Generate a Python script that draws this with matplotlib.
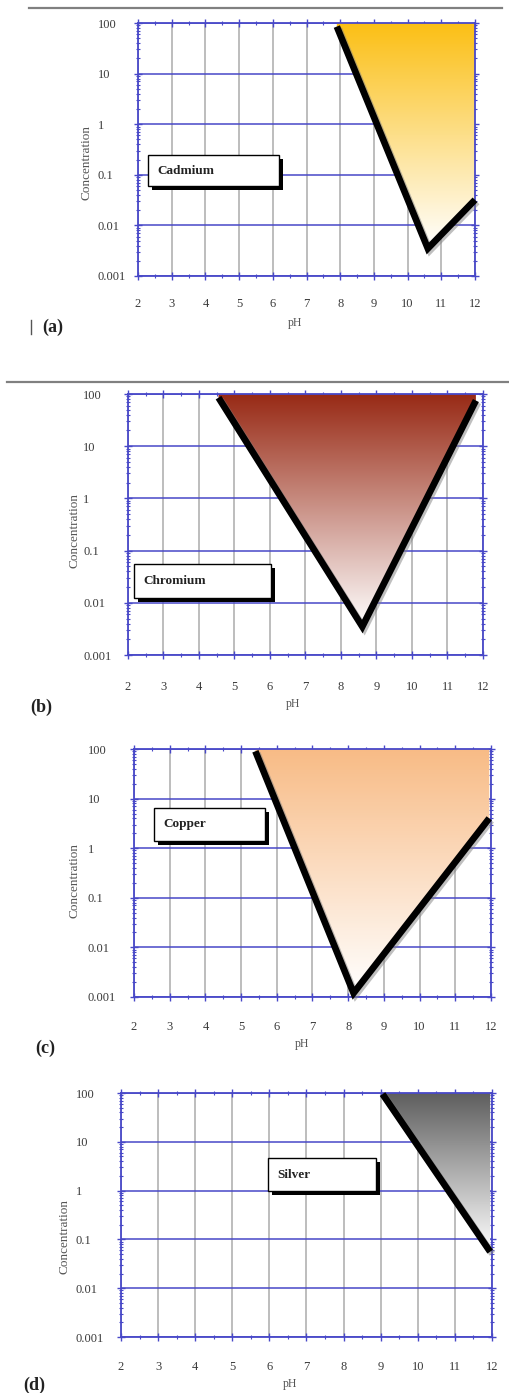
import numpy as np
import matplotlib
matplotlib.use("Agg")
import matplotlib.pyplot as plt
from matplotlib.patches import Polygon, Rectangle
from matplotlib.lines import Line2D
from matplotlib.ticker import LogLocator, FixedLocator, NullFormatter
import matplotlib.patheffects as pe
from matplotlib.colors import to_rgb

plt.rcParams['font.family'] = ['Liberation Serif', 'DejaVu Serif']

# ---------------- data ----------------
ph_ticks = [2, 3, 4, 5, 6, 7, 8, 9, 10, 11, 12]
conc_ticks = [0.001, 0.01, 0.1, 1, 10, 100]
conc_tick_labels = ['0.001', '0.01', '0.1', '1', '10', '100']

metals = ['Cadmium', 'Chromium', 'Copper', 'Silver']
panel_letters = ['(a)', '(b)', '(c)', '(d)']

cd_ph = [7.9, 10.6, 12.0]
cd_conc = [85, 0.0035, 0.032]
cr_ph = [4.55, 8.6, 11.8]
cr_conc = [85, 0.0035, 75]
cu_ph = [5.4, 8.15, 11.95]
cu_conc = [90, 0.0012, 4.0]
ag_ph = [9.05, 11.95]
ag_conc = [95, 0.056]

top_colors = ['#FBBF14', '#982A15', '#F8BB85', '#5E5E5E']

# ---------------- layout (pixels) ----------------
W, H, DPI = 510, 1393, 100
BLUE = '#4848c8'
GRID_GRAY = '#b8b8b8'

# left, right, top, bottom of plot area
axes_px = [(138, 475, 23, 276), (128, 483, 394, 655),
           (134, 491, 749, 997), (121, 492, 1093, 1337)]
ytick_left_px = [98, 83, 88, 76]
ylabel_px = [(88, 162), (75, 530), (75, 880), (65, 1237)]
xtick_y_px = [304, 687, 1027, 1367]
xlabel_px = [(295, 322), (293, 703), (302, 1043), (290, 1383)]
letter_px = [(42, 327), (30, 707), (35, 1048), (23, 1385)]
box_px = [(148, 283, 155, 190), (134, 275, 564, 602),
          (154, 269, 808, 845), (268, 380, 1158, 1195)]

series = [(cd_ph, cd_conc), (cr_ph, cr_conc), (cu_ph, cu_conc), (ag_ph, ag_conc)]

fig = plt.figure(figsize=(W / DPI, H / DPI), dpi=DPI)
fig.patch.set_facecolor('white')

px2pt = 72.0 / DPI

for i in range(4):
    l, r, t, b = axes_px[i]
    aw, ah = r - l, b - t
    ax = fig.add_axes([l / W, 1 - b / H, aw / W, ah / H])
    ax.set_yscale('log')
    ax.set_xlim(2, 12)
    ax.set_ylim(1e-3, 1e2)
    ax.set_autoscale_on(False)

    ax.set_xticks(ph_ticks)
    ax.set_xticklabels([str(v) for v in ph_ticks])
    ax.set_yticks(conc_ticks)
    ax.set_yticklabels(conc_tick_labels)
    ax.xaxis.set_minor_locator(FixedLocator(np.arange(2.5, 12, 1.0)))
    ax.yaxis.set_minor_locator(LogLocator(base=10, subs=np.arange(2, 10), numticks=20))
    ax.yaxis.set_minor_formatter(NullFormatter())

    ax.tick_params(which='major', direction='inout', length=6, width=1.0,
                   color=BLUE, top=True, right=True, labelsize=9,
                   labelcolor='#3a3a3a')
    ax.tick_params(which='minor', direction='inout', length=3, width=0.8,
                   color=BLUE, top=True, right=True)
    # label pads
    xpad = (xtick_y_px[i] - b - 6) * px2pt - 3
    ax.tick_params(axis='x', which='major', pad=xpad)
    ypad = (l - ytick_left_px[i]) * px2pt - 3
    ax.tick_params(axis='y', which='major', pad=ypad)
    for lbl in ax.get_yticklabels():
        lbl.set_horizontalalignment('left')

    for sp in ax.spines.values():
        sp.set_color(BLUE)
        sp.set_linewidth(1.3)

    ax.set_axisbelow(True)
    ax.grid(axis='x', which='major', color=GRID_GRAY, lw=1.3)
    ax.grid(axis='y', which='major', color=BLUE, lw=1.1)

    ax.set_ylabel('Concentration', fontsize=9.5, color='#555555')
    ax.yaxis.set_label_coords((ylabel_px[i][0] + 5 - l) / aw, 1 - (ylabel_px[i][1] - t) / ah)
    ax.set_xlabel('pH', fontsize=8.5, color='#555555')
    ax.xaxis.set_label_coords((xlabel_px[i][0] - l) / aw, 1 - (xlabel_px[i][1] - 5 - t) / ah)

    # ---- gradient-filled region ----
    ph, conc = series[i]
    verts = [(ph[0], 100)] + list(zip(ph, conc)) + [(ph[-1], 100)]
    poly = Polygon(verts, closed=True, transform=ax.transData,
                   facecolor='none', edgecolor='none')
    ymin_ax = (np.log10(min(conc)) + 3) / 5.0
    top = np.array(to_rgb(top_colors[i]))
    frac = np.linspace(0, 1, 256)[:, None]
    grad = (1 - frac) * np.ones(3) + frac * top
    grad = grad[:, None, :]
    im = ax.imshow(grad, extent=(0, 1, ymin_ax, 1), transform=ax.transAxes,
                   aspect='auto', origin='lower', interpolation='bilinear', zorder=2)
    im.set_clip_path(poly)

    ax.plot(ph, conc, color='black', lw=4.8, solid_capstyle='butt',
            solid_joinstyle='miter', zorder=4, clip_on=False,
            path_effects=[pe.SimpleLineShadow(offset=(1.5, -1.5), shadow_color='gray', alpha=0.5),
                          pe.Normal()])

    # ---- label box ----
    bx0, bx1, by0, by1 = box_px[i]
    sh = 4
    rx0 = (bx0 - l) / aw
    rw = (bx1 - sh - bx0) / aw
    ry0 = 1 - (by1 - sh - t) / ah
    rh = (by1 - sh - by0) / ah
    rect = Rectangle((rx0, ry0), rw, rh, transform=ax.transAxes,
                     facecolor='white', edgecolor='black', lw=1.0, zorder=5,
                     path_effects=[pe.SimplePatchShadow(offset=(sh * px2pt, -sh * px2pt),
                                                        shadow_rgbFace='black', alpha=1.0),
                                   pe.Normal()])
    ax.add_patch(rect)
    ax.text(rx0 + 9 / aw, ry0 + rh / 2, metals[i], transform=ax.transAxes,
            fontsize=9.5, fontweight='bold', ha='left', va='center', zorder=6,
            color='#222222')

    # panel letter
    fig.text(letter_px[i][0] / W, 1 - letter_px[i][1] / H, panel_letters[i],
             fontsize=13, fontweight='bold', ha='left', va='center', color='#222222')

# separators
fig.add_artist(Line2D([29 / W, 502 / W], [1 - 8 / H, 1 - 8 / H], transform=fig.transFigure,
                      color='#808080', lw=1.6))
fig.add_artist(Line2D([7 / W, 510 / W], [1 - 382 / H, 1 - 382 / H], transform=fig.transFigure,
                      color='#808080', lw=1.6))
fig.add_artist(Line2D([31 / W, 31 / W], [1 - 320 / H, 1 - 334 / H], transform=fig.transFigure,
                      color='#555555', lw=1.0))

fig.savefig('out.png', dpi=DPI, facecolor='white')
